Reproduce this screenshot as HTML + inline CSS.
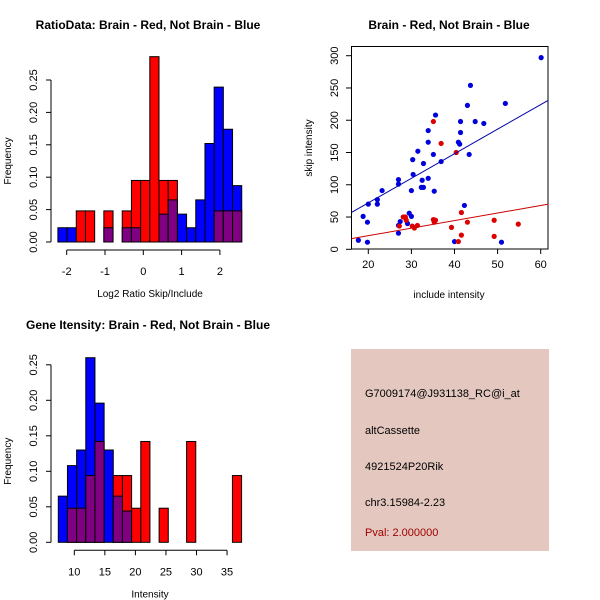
<!DOCTYPE html>
<html><head><meta charset="utf-8"><style>
body{margin:0;background:#fff}
svg{display:block;font-family:"Liberation Sans",sans-serif}
</style></head><body>
<svg id="c" width="600" height="600" viewBox="0 0 600 600">
<rect x="351" y="349" width="198" height="202" fill="#e4c8c0"/>
<g font-size="11" fill="#000">
<text x="365" y="397">G7009174@J931138_RC@i_at</text>
<text x="365" y="434">altCassette</text>
<text x="365" y="470">4921524P20Rik</text>
<text x="365" y="506">chr3.15984-2.23</text>
<text x="365" y="536" fill="#a00000">Pval: 2.000000</text>
</g>
</svg>
<script>
// Ratio histogram data
const ratioStart = -2.23, ratioBinW = 0.24;
const ratioBlue = [0.022,0.022,0,0,0,0.022,0,0.022,0.022,0,0,0.043,0.065,0.043,0.022,0.065,0.152,0.239,0.174,0.087];
const ratioRed  = [0,0,0.048,0.048,0,0.048,0,0.048,0.095,0.095,0.286,0.095,0.095,0,0,0,0,0.048,0.048,0.048];
const ratioXTicks = [-2,-1,0,1,2];
const freqTicks = ["0.00","0.05","0.10","0.15","0.20","0.25"];
// Intensity histogram data
const intStart = 7.38, intBinW = 1.5;
const intBlue = [0.065,0.108,0.130,0.26,0.196,0.130,0.065,0.044,0,0,0,0,0,0,0,0,0,0,0,0];
const intRed  = [0,0.048,0.048,0.094,0.142,0,0.094,0.094,0.048,0.142,0,0.048,0,0,0.142,0,0,0,0,0.094];
const intXTicks = [10,15,20,25,30,35];
// Scatter data
const blueX = [60.1,43.7,51.8,43.0,35.6,44.8,41.4,46.8,33.9,41.4,33.9,40.9,41.2,31.5,35.1,43.4,30.3,32.8,36.9,30.4,33.9,27.0,32.5,27.0,32.3,32.8,23.2,30.0,35.3,22.1,22.1,20.0,42.3,18.8,29.5,30.0,19.8,27.4,29.1,27.0,17.7,19.8,27.0,40.0,50.9];
const blueY = [297,254,226,223,208,198,198,195,184,181,166,166,163,152,147,147,139,133,136,116,110,108,107,101,96,96,91,91,90,77,70,70,68,51,56,51,42,43,40,37,14,11,25,12,11];
const redX = [35.1,36.9,40.4,28.1,28.6,28.8,41.6,35.1,35.6,35.3,30.2,31.4,30.7,43.0,49.2,54.8,39.3,41.6,40.9,49.2,27.2];
const redY = [198,164,150,50,50,45,57,46,45,42,36,37,33,42,45,39,34,22,12,20,36];
const blueFit = [-4.3,3.81];
const redFit = [-2.3,1.17];
const scXTicks = [20,30,40,50,60];
const scYTicks = [0,50,100,150,200,250,300];

const svg = document.getElementById('c');
const NS = 'http://www.w3.org/2000/svg';
function mk(tag, attrs, parent){const e=document.createElementNS(NS,tag);for(const k in attrs)e.setAttribute(k,attrs[k]);(parent||svg).appendChild(e);return e;}
function txt(x,y,s,size,rot,extra){const t=mk('text',Object.assign({x:x,y:y,'font-size':size,'text-anchor':'middle'},extra||{}));if(rot)t.setAttribute('transform','rotate(-90 '+x+' '+y+')');t.textContent=s;return t;}

function hist(title, titleY, start, binW, blue, red, xTicks, sx, y0, perUnitY, xlab, xTickVals){
  const sy = v => y0 - v*perUnitY;
  const bw = binW*sx.k;
  for(let i=0;i<blue.length;i++){
    const x = sx(start + i*binW);
    const b=blue[i], r=red[i];
    const big = Math.max(b,r), small=Math.min(b,r);
    if(big>0){
      const rc = mk('rect',{x:x,y:sy(big),width:bw,height:y0-sy(big),fill:b>r?'#0000ff':'#ff0000',stroke:'#000','stroke-width':1});
      
      
    }
    if(small>0){
      const rc = mk('rect',{x:x,y:sy(small),width:bw,height:y0-sy(small),fill:'#7f0080',stroke:'#000','stroke-width':1});
      
      
    }
  }
  // y axis
  const ax = 51;
  mk('line',{x1:ax,x2:ax,y1:y0,y2:sy(0.25),stroke:'#000'});
  freqTicks.forEach((t,i)=>{const y=sy(i*0.05);mk('line',{x1:ax-5,x2:ax,y1:y,y2:y,stroke:'#000'});
    const tt=txt(37,y,t,11,true);});
  const yl=txt(11,y0-81,'Frequency',10,true);
  // x axis
  const axY = y0+8;
  mk('line',{x1:sx(xTicks[0]),x2:sx(xTicks[xTicks.length-1]),y1:axY,y2:axY,stroke:'#000'});
  xTicks.forEach(t=>{const x=sx(t);mk('line',{x1:x,x2:x,y1:axY,y2:axY+5,stroke:'#000'});
    const tt=txt(x,axY+25,String(t),11);});
  const xl=txt(150,y0+55,xlab,10);
  const tl=txt(148,titleY,title,12,false,{'font-weight':'bold'});
}
const sx1 = v => 66.7 + (v+2)*38.3; sx1.k = 38.3;
hist('RatioData: Brain - Red, Not Brain - Blue', 29, ratioStart, ratioBinW, ratioBlue, ratioRed, ratioXTicks, sx1, 242, 648, 'Log2 Ratio Skip/Include');
const sx2 = v => 74.3 + (v-10)*6.11; sx2.k = 6.11;
hist('Gene Itensity: Brain - Red, Not Brain - Blue', 329, intStart, intBinW, intBlue, intRed, intXTicks, sx2, 542.3, 710, 'Intensity');

// scatter
const px = v => 368.3 + (v-20)*4.31;
const py = v => 249.3 - v*0.6453;
const box = mk('rect',{x:351.5,y:46.5,width:196.5,height:202.5,fill:'none',stroke:'#000'});


scXTicks.forEach(t=>{const x=px(t);mk('line',{x1:x,x2:x,y1:249,y2:254,stroke:'#000'});
  const tt=txt(x,268,String(t),11);});
scYTicks.forEach(t=>{const y=py(t);mk('line',{x1:346,x2:351.5,y1:y,y2:y,stroke:'#000'});
  const tt=txt(338,y,String(t),11,true);});
const sxl=txt(449,298,'include intensity',10);
const syl=txt(312,148,'skip intensity',10,true);
const st=txt(449,29,'Brain - Red, Not Brain - Blue',12,false,{'font-weight':'bold'});
const g = mk('g',{'clip-path':'none'});
for(let i=0;i<blueX.length;i++){const c=mk('circle',{cx:px(blueX[i]),cy:py(blueY[i]),r:2.6,fill:'#0000dd'},g);
  }
for(let i=0;i<redX.length;i++){const c=mk('circle',{cx:px(redX[i]),cy:py(redY[i]),r:2.6,fill:'#dd0000'},g);
  }
function fit(coef,color,name){const x0=16.1,x1=61.8;
  const l=mk('line',{x1:px(x0),y1:py(coef[0]+coef[1]*x0),x2:px(x1),y2:py(coef[0]+coef[1]*x1),stroke:color,'stroke-width':1});
  }
fit(blueFit,'#0000aa','fit-line-not-brain');
fit(redFit,'#cc0000','fit-line-brain');
</script>
</body></html>
